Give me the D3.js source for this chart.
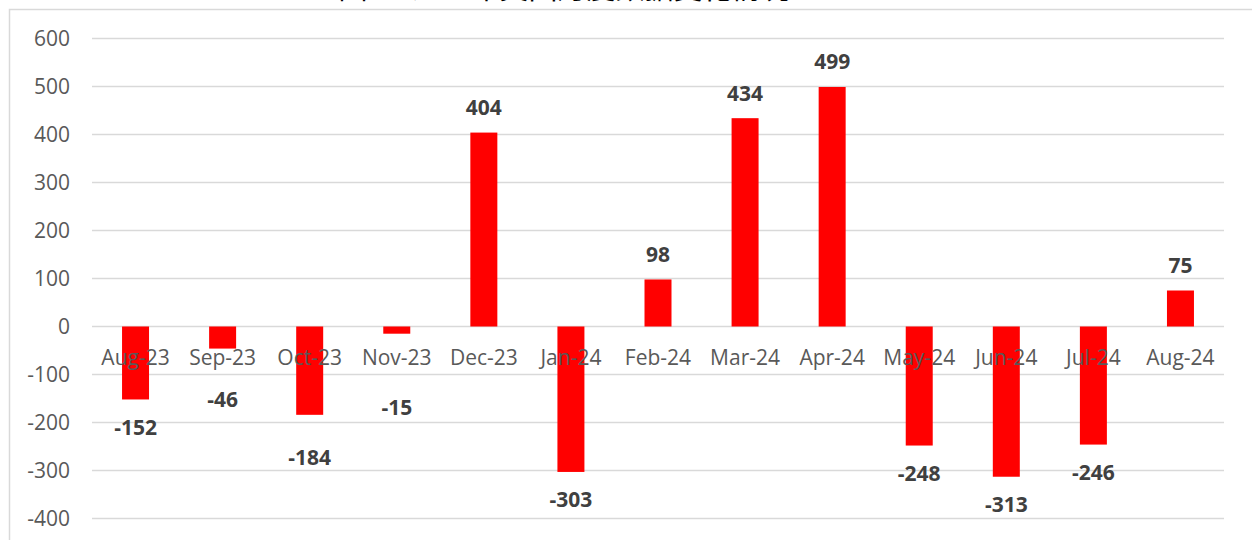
<!DOCTYPE html>
<html>
<head>
<meta charset="utf-8">
<script src="https://cdn.jsdelivr.net/npm/d3@7"></script>
<style>
    html, body { margin: 0; padding: 0; background: #ffffff; }
    svg { display: block; }
</style>
</head>
<body>
<div id="chart"></div>
<script>
"use strict";

const months = ["Aug-23", "Sep-23", "Oct-23", "Nov-23", "Dec-23", "Jan-24", "Feb-24",
    "Mar-24", "Apr-24", "May-24", "Jun-24", "Jul-24", "Aug-24"];
const values = [-152, -46, -184, -15, 404, -303, 98, 434, 499, -248, -313, -246, 75];
const yTicks = [600, 500, 400, 300, 200, 100, 0, -100, -200, -300, -400];
const titleText = "图1：近一年美国月度数据变化情况";

// labels that were pushed further down so they clear the month labels
const labelNudge = { "Sep-23": 23, "Oct-23": 15, "Nov-23": 46 };

const width = 1252, height = 540;
const plot = { left: 92, right: 1224, top: 38.5, bottom: 518.5 };

const svg = d3.select("#chart")
    .append("svg")
    .attr("width", width)
    .attr("height", height);

// chart border (runs past the right and bottom edges)
svg.append("rect")
    .attr("x", 9.5)
    .attr("y", 9.5)
    .attr("width", 1300)
    .attr("height", 600)
    .attr("fill", "none")
    .attr("stroke", "#d9d9d9")
    .attr("stroke-width", 1.5);

// title, mostly cut off at the top
svg.append("text")
    .attr("x", 564)
    .attr("y", -1)
    .attr("text-anchor", "middle")
    .attr("font-family", "'Noto Sans CJK SC', sans-serif")
    .attr("font-size", 29)
    .attr("fill", "#000000")
    .text(titleText);

const x = d3.scaleBand()
    .domain(months)
    .range([plot.left, plot.right])
    .paddingInner(0.69)
    .paddingOuter(0.345);

const y = d3.scaleLinear()
    .domain([-400, 600])
    .range([plot.bottom, plot.top]);

// gridlines
svg.append("g")
    .selectAll("line")
    .data(yTicks)
    .join("line")
    .attr("x1", plot.left)
    .attr("x2", plot.right)
    .attr("y1", d => y(d))
    .attr("y2", d => y(d))
    .attr("stroke", "#d9d9d9")
    .attr("stroke-width", 1.5);

// y axis labels
svg.append("g")
    .selectAll("text")
    .data(yTicks)
    .join("text")
    .attr("x", 70)
    .attr("y", d => y(d))
    .attr("dy", "0.36em")
    .attr("text-anchor", "end")
    .attr("font-family", "'Open Sans', sans-serif")
    .attr("font-size", 21)
    .attr("fill", "#595959")
    .text(d => d);

// bars
svg.append("g")
    .selectAll("rect")
    .data(values)
    .join("rect")
    .attr("x", (d, i) => x(months[i]))
    .attr("width", x.bandwidth())
    .attr("y", d => y(Math.max(0, d)))
    .attr("height", d => Math.abs(y(d) - y(0)))
    .attr("fill", "#ff0000");

// month labels, drawn over the bars just below the zero line
svg.append("g")
    .selectAll("text")
    .data(months)
    .join("text")
    .attr("x", d => x(d) + x.bandwidth() / 2)
    .attr("y", y(0) + 38.5)
    .attr("text-anchor", "middle")
    .attr("font-family", "'Open Sans', sans-serif")
    .attr("font-size", 21)
    .attr("fill", "#595959")
    .text(d => d);

// value labels
svg.append("g")
    .selectAll("text")
    .data(values)
    .join("text")
    .attr("x", (d, i) => x(months[i]) + x.bandwidth() / 2)
    .attr("y", (d, i) => d >= 0 ? y(d) - 17.5 : y(d) + 35.5 + (labelNudge[months[i]] || 0))
    .attr("text-anchor", "middle")
    .attr("font-family", "'Open Sans', sans-serif")
    .attr("font-weight", "bold")
    .attr("font-size", 21)
    .attr("fill", "#404040")
    .text(d => d);
</script>
</body>
</html>
